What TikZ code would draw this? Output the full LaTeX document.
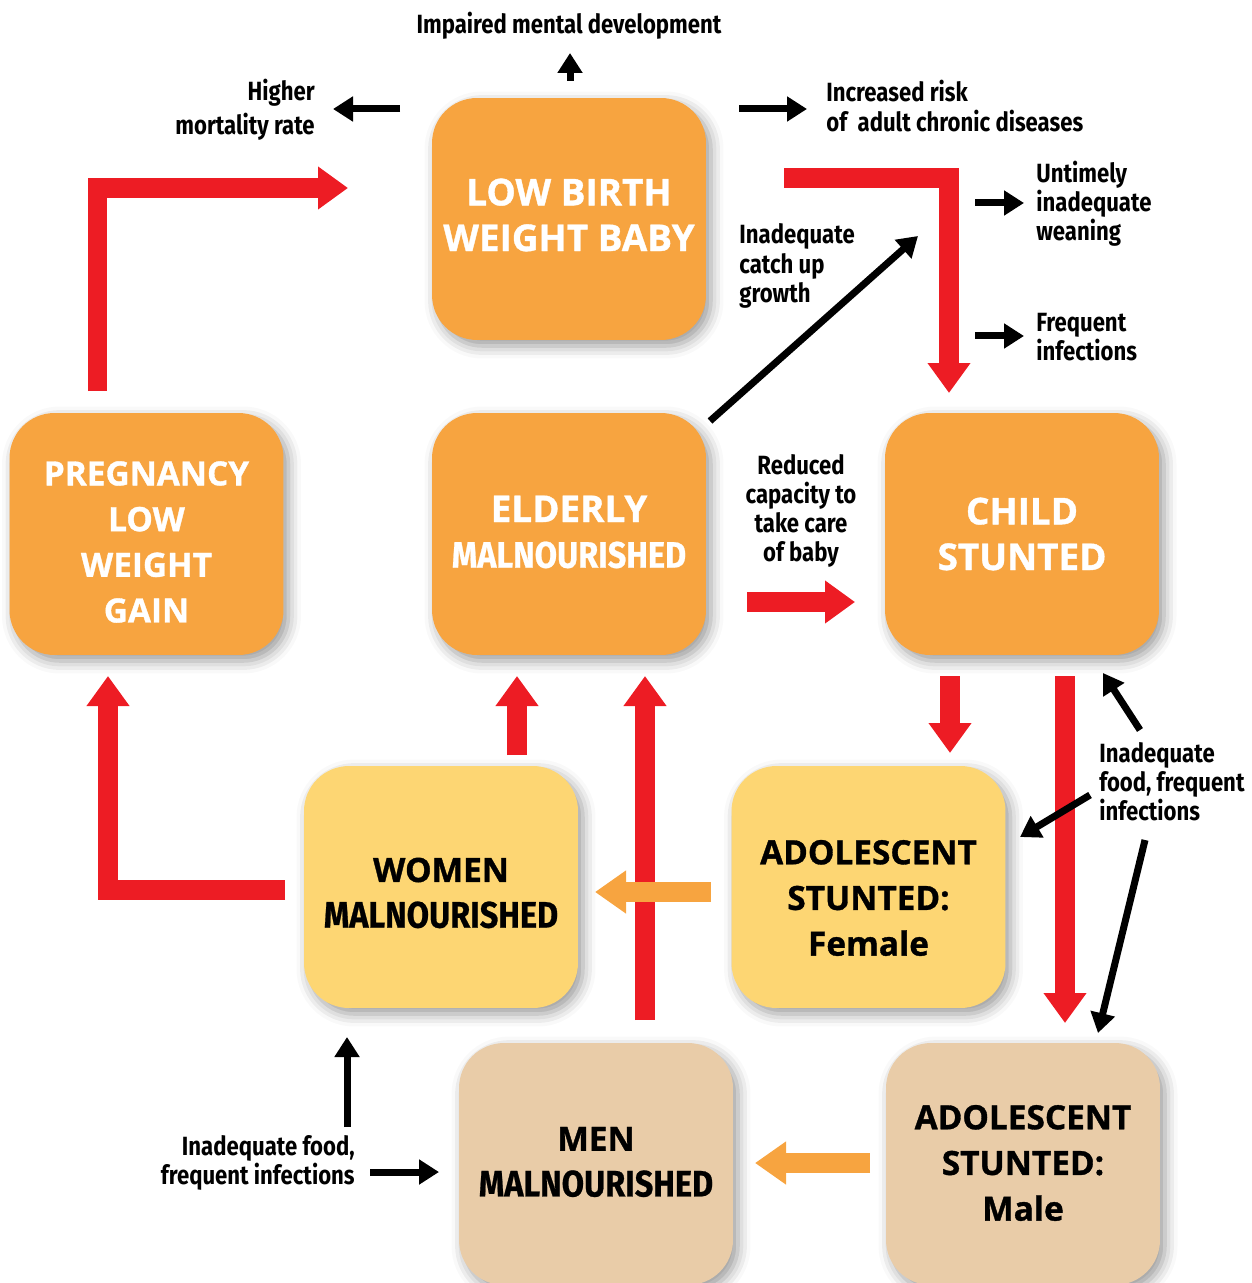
\documentclass[tikz,border=0pt]{standalone}
\usepackage{fontspec}
\setmainfont{Open Sans}
\newfontfamily\heavyfont[FakeBold=1]{Open Sans}
\newfontfamily\condfont[FakeStretch=0.84]{Fira Sans}
\newfontfamily\boxcondfont[FakeStretch=0.88,FakeBold=0.6]{Fira Sans}
\usetikzlibrary{arrows.meta,shadows.blur}
\definecolor{boxorange}{HTML}{F7A440}
\definecolor{boxyellow}{HTML}{FDD673}
\definecolor{boxtan}{HTML}{E9CCA8}
\definecolor{arrred}{HTML}{ED1C24}
\begin{document}
\begin{tikzpicture}[x=0.02cm,y=-0.02cm,
  cbox/.style={rounded corners=0.9cm, minimum width=5.48cm, minimum height=4.84cm,
    inner sep=0pt,
    blur shadow={shadow xshift=0.1cm, shadow yshift=-0.12cm, shadow blur radius=0.25cm, shadow opacity=40}},
  orangebox/.style={cbox, fill=boxorange},
  yellowbox/.style={cbox, fill=boxyellow},
  tanbox/.style={cbox, fill=boxtan},
  boxtext/.style={inner sep=0pt, align=center, font=\heavyfont\bfseries\fontsize{19}{26}\selectfont},
  bigtext/.style={boxtext, font=\heavyfont\bfseries\fontsize{21}{26}\selectfont},
  lab/.style={font=\condfont\bfseries\fontsize{15}{16.6}\selectfont, inner sep=0pt},
  bigred/.style={draw=arrred, line width=0.4cm, -{Triangle[length=0.6cm,width=0.82cm]}},
  bigorange/.style={draw=boxorange, line width=0.4cm, -{Triangle[length=0.62cm,width=0.82cm]}},
  blackarrow/.style={draw=black, line width=0.14cm, -{Triangle[length=0.4cm,width=0.48cm]}},
]
\newcommand{\cond}[1]{{\boxcondfont\fontsize{21}{26}\selectfont #1}}
\useasboundingbox (0,0) rectangle (1251,1283);
\clip (0,0) rectangle (1251,1283);

% boxes
\node[orangebox] (lbw) at (569,219) {};
\node[orangebox] (preg) at (146.5,534) {};
\node[orangebox] (eld) at (569,534) {};
\node[orangebox] (child) at (1022,534) {};
\node[yellowbox] (adf) at (868.5,887) {};
\node[yellowbox] (women) at (441,887) {};
\node[tanbox] (men) at (596,1164) {};
\node[tanbox] (adm) at (1023,1164) {};

% box texts
\node[bigtext, text=white] (lbwt) at (569,215) {LOW BIRTH\\WEIGHT BABY};
\node[boxtext, text=white] (pregt) at (146.5,542) {PREGNANCY\\LOW\\WEIGHT\\GAIN};
\node[bigtext, text=white] (eldt) at (569,532) {ELDERLY\\\cond{MALNOURISHED}};
\node[bigtext, text=white] (childt) at (1022,534) {CHILD\\STUNTED};
\node[boxtext] (adft) at (868.5,898) {ADOLESCENT\\STUNTED:\\Female};
\node[boxtext] (woment) at (441,893) {WOMEN\\\cond{MALNOURISHED}};
\node[boxtext] (ment) at (596,1162) {MEN\\\cond{MALNOURISHED}};
\node[boxtext] (admt) at (1023,1163) {ADOLESCENT\\STUNTED:\\Male};

% labels
\node[lab] (imd) at (569,26) {Impaired mental development};
\node[lab, align=right, anchor=east] (hmr) at (315,110) {Higher\\[3pt]mortality rate};
\node[lab, align=left, anchor=west] (irc) at (826,106) {Increased risk\\of\ \ adult chronic diseases};
\node[lab, align=left, anchor=west] (uiw) at (1036,204) {Untimely\\inadequate\\weaning};
\node[lab, align=left, anchor=west] (fi) at (1036,337) {Frequent\\infections};
\node[lab, align=left, anchor=west] (icg) at (739,266) {Inadequate\\catch up\\growth};
\node[lab, align=center] (rc) at (801,511) {Reduced\\capacity to\\take care\\of baby};
\node[lab, align=left, anchor=west] (iff) at (1099,782) {Inadequate\\food, frequent\\infections};
\node[lab, align=right, anchor=east] (ifb) at (355,1163) {Inadequate food,\\frequent infections};

% connector end points
\coordinate (c1) at (97.5,391);  \coordinate (c1b) at (97.5,188); \coordinate (c1e) at (348,188);
\coordinate (c2) at (784,178);   \coordinate (c2b) at (949,178);  \coordinate (c2e) at (949,393);
\coordinate (c3) at (747,602);   \coordinate (c3e) at (855,602);
\coordinate (c4) at (950,676);   \coordinate (c4e) at (950,753);
\coordinate (c5) at (1065,676);  \coordinate (c5e) at (1065,1023);
\coordinate (c6) at (517,755);   \coordinate (c6e) at (517,676);
\coordinate (c7) at (645,1020);  \coordinate (c7e) at (645,676);
\coordinate (c8) at (285,890);   \coordinate (c8b) at (108,890);  \coordinate (c8e) at (108,676);
\coordinate (c9) at (711,892);   \coordinate (c9e) at (595,892);
\coordinate (c10) at (870,1163); \coordinate (c10e) at (755,1163);

% red arrows
\draw[bigred] (c1) -- (c1b) -- (c1e);
\draw[bigred] (c2) -- (c2b) -- (c2e);
\draw[bigred] (c3) -- (c3e);
\draw[bigred] (c4) -- (c4e);
\draw[bigred] (c5) -- (c5e);
\draw[bigred] (c6) -- (c6e);
\draw[bigred] (c7) -- (c7e);
\draw[bigred] (c8) -- (c8b) -- (c8e);
% orange arrows
\draw[bigorange] (c9) -- (c9e);
\draw[bigorange] (c10) -- (c10e);

% black arrows
\coordinate (b1) at (570,81);   \coordinate (b1e) at (570,53);
\coordinate (b2) at (400,109);  \coordinate (b2e) at (333,109);
\coordinate (b3) at (739,109);  \coordinate (b3e) at (807,109);
\coordinate (b4) at (975,203);  \coordinate (b4e) at (1024,203);
\coordinate (b5) at (975,336);  \coordinate (b5e) at (1024,336);
\coordinate (b6) at (710,421);  \coordinate (b6e) at (918,236);
\coordinate (b7) at (1140,730); \coordinate (b7e) at (1103,673);
\coordinate (b8) at (1090,795); \coordinate (b8e) at (1020,837);
\coordinate (b9) at (1145,840); \coordinate (b9e) at (1098,1033);
\coordinate (b10) at (347,1127);\coordinate (b10e) at (347,1037);
\coordinate (b11) at (370,1172);\coordinate (b11e) at (439,1172);
\foreach \s/\e in {b1/b1e,b2/b2e,b3/b3e,b4/b4e,b5/b5e,b6/b6e,b7/b7e,b8/b8e,b9/b9e,b10/b10e,b11/b11e}
  \draw[blackarrow] (\s) -- (\e);
\end{tikzpicture}
\end{document}
